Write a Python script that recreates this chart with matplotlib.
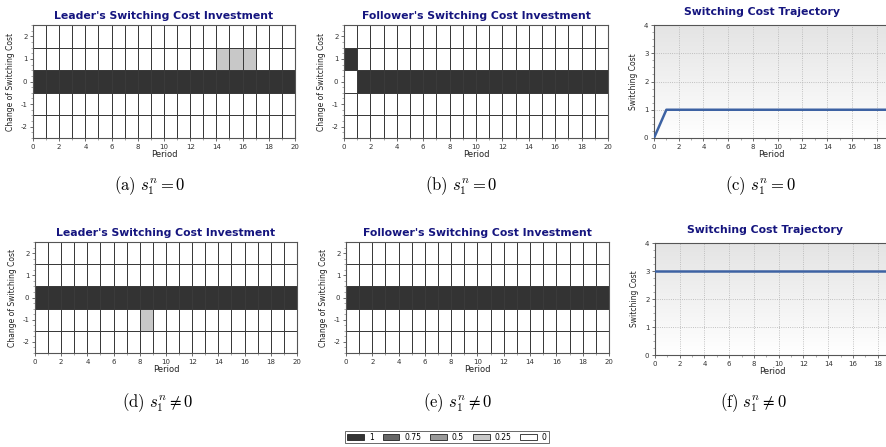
import numpy as np
import matplotlib
matplotlib.use('Agg')
import matplotlib.pyplot as plt
from matplotlib.colors import ListedColormap, BoundaryNorm, LinearSegmentedColormap
from matplotlib.patches import Patch
from matplotlib.ticker import MultipleLocator

plt.rcParams['mathtext.fontset'] = 'cm'
plt.rcParams['axes.unicode_minus'] = False

##### data: investment shares per period, one list per change level
periods = list(range(20))
levels = [-2, -1, 0, 1, 2]

leader_top = {2: [0]*20,
              1: [0]*14 + [0.25]*3 + [0]*3,
              0: [1]*20,
              -1: [0]*20,
              -2: [0]*20}
follower_top = {2: [0]*20,
                1: [1] + [0]*19,
                0: [0] + [1]*19,
                -1: [0]*20,
                -2: [0]*20}
leader_bot = {2: [0]*20,
              1: [0]*20,
              0: [1]*20,
              -1: [0]*8 + [0.25] + [0]*11,
              -2: [0]*20}
follower_bot = {2: [0]*20,
                1: [0]*20,
                0: [1]*20,
                -1: [0]*20,
                -2: [0]*20}

traj_top = [0] + [1]*19
traj_bot = [3]*20

legend_vals = [1, 0.75, 0.5, 0.25, 0]
legend_cols = ['#333333', '#666666', '#999999', '#c8c8c8', '#ffffff']

titlecol = '#15157f'
cmap = ListedColormap(legend_cols[::-1])
norm = BoundaryNorm([-0.1, 0.1, 0.3, 0.6, 0.8, 1.1], cmap.N)

W, H = 887, 447
fig = plt.figure(figsize=(W/100, H/100), dpi=100)

def box(x0, y0, x1, y1):
    return [x0/W, 1 - y1/H, (x1-x0)/W, (y1-y0)/H]

def heat(rect, rows, title):
    ax = fig.add_axes(rect)
    z = np.array([rows[l] for l in levels])
    xe = np.arange(len(periods)+1)
    ye = np.arange(len(levels)+1) - 2.5
    ax.pcolormesh(xe, ye, z, cmap=cmap, norm=norm, edgecolors='#3a3a3a', linewidth=0.65)
    ax.set_xlim(0, 20)
    ax.set_ylim(-2.5, 2.5)
    ax.set_xticks(range(0, 21, 2))
    ax.set_yticks(levels)
    ax.yaxis.set_minor_locator(MultipleLocator(0.25))
    ax.xaxis.set_minor_locator(MultipleLocator(1))
    ax.tick_params(labelsize=5, length=2, width=0.5, pad=2, colors='#333333')
    ax.tick_params(which='minor', length=1.2, width=0.5, colors='#888888')
    ax.set_xlabel('Period', fontsize=6, labelpad=0, color='#222222')
    ax.set_ylabel('Change of Switching Cost', fontsize=5.5, labelpad=4, color='#222222')
    for s in ax.spines.values():
        s.set_color('#555555'); s.set_linewidth(0.8)
    ax.set_title(title, fontsize=7.8, fontweight='bold', color=titlecol, pad=4)
    return ax

grad = LinearSegmentedColormap.from_list('g', ['#ffffff', '#e4e4e4'])

def traj(rect, vals, title, tx, ty):
    ax = fig.add_axes(rect)
    ax.imshow(np.linspace(0, 1, 100).reshape(-1, 1), cmap=grad, aspect='auto',
              extent=[0, 19, 0, 4], origin='lower', zorder=0)
    ax.plot(periods, vals, color='#3d62a3', linewidth=1.8, zorder=3)
    ax.set_xlim(0, 19)
    ax.set_ylim(0, 4)
    ax.set_xticks(range(0, 19, 2))
    ax.set_yticks(range(0, 5))
    ax.xaxis.set_minor_locator(MultipleLocator(1))
    ax.yaxis.set_minor_locator(MultipleLocator(0.25))
    ax.grid(True, which='major', color='#b0b0b0', linestyle=':', linewidth=0.6, zorder=1)
    ax.tick_params(labelsize=5, length=2, width=0.5, pad=2, colors='#333333')
    ax.tick_params(which='minor', length=1.2, width=0.5, colors='#888888')
    ax.set_xlabel('Period', fontsize=6, labelpad=0, color='#222222')
    ax.set_ylabel('Switching Cost', fontsize=5.5, labelpad=4, color='#222222')
    for s in ax.spines.values():
        s.set_color('#555555'); s.set_linewidth(0.8)
    fig.text(tx/W, 1 - ty/H, title, fontsize=7.8, fontweight='bold', color=titlecol,
             ha='center', va='center')
    return ax

heat(box(33, 25, 295, 138), leader_top, "Leader's Switching Cost Investment")
heat(box(344, 25, 608, 138), follower_top, "Follower's Switching Cost Investment")
traj(box(654, 25, 889, 138), traj_top, "Switching Cost Trajectory", 762, 12)
heat(box(35, 242, 297, 353), leader_bot, "Leader's Switching Cost Investment")
heat(box(346, 242, 609, 353), follower_bot, "Follower's Switching Cost Investment")
traj(box(655, 243, 890, 355), traj_bot, "Switching Cost Trajectory", 765, 230)

captions = [(r'$\mathrm{(a)}\ s_1^n = 0$', 150, 186),
            (r'$\mathrm{(b)}\ s_1^n = 0$', 461, 186),
            (r'$\mathrm{(c)}\ s_1^n = 0$', 760, 186),
            (r'$\mathrm{(d)}\ s_1^n \neq 0$', 157, 403),
            (r'$\mathrm{(e)}\ s_1^n \neq 0$', 458, 403),
            (r'$\mathrm{(f)}\ s_1^n \neq 0$', 753, 403)]
for txt, x, y in captions:
    fig.text(x/W, 1 - y/H, txt, fontsize=12, ha='center', va='center')

handles = [Patch(facecolor=c, edgecolor='#222222', linewidth=0.6) for c in legend_cols]
labels = [str(v) for v in legend_vals]
leg = fig.legend(handles, labels, ncol=5, loc='center', bbox_to_anchor=(447/W, 1 - 437/H),
                 fontsize=5.5, frameon=True, fancybox=False, handlelength=2.2, handleheight=0.9,
                 handletextpad=0.6, columnspacing=1.2, borderpad=0.25, borderaxespad=0)
leg.get_frame().set_edgecolor('#444444')
leg.get_frame().set_linewidth(0.7)

fig.savefig('out.png', dpi=100)
